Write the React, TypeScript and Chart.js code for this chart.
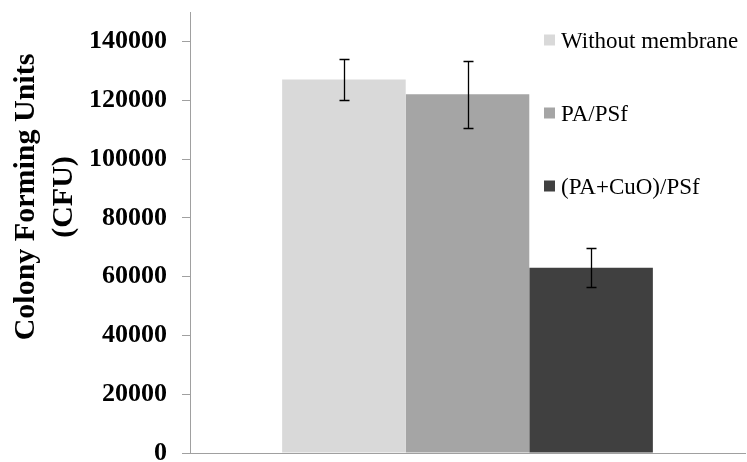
import React, { useEffect, useRef } from "react";
import { Chart, registerables } from "chart.js";

Chart.register(...registerables);

const categories = [""];
const seriesLabels = ["Without membrane", "PA/PSf", "(PA+CuO)/PSf"];
const seriesValues = [127000, 122000, 63000];
const seriesErrors = [7100, 11400, 6600];
const seriesColors = ["#d9d9d9", "#a5a5a5", "#404040"];
const yTickValues = [0, 20000, 40000, 60000, 80000, 100000, 120000, 140000];
const yTitle = ["Colony Forming Units", "(CFU)"];

const FONT = "'Liberation Serif', 'Times New Roman', serif";
const AXIS_GREY = "#a0a0a0";

const errorBarPlugin = {
  id: "errorBars",
  afterDatasetsDraw(chart: any) {
    const ctx = chart.ctx;
    const y = chart.scales.y;
    ctx.save();
    ctx.strokeStyle = "#000";
    ctx.lineWidth = 1.3;
    chart.data.datasets.forEach((ds: any, i: number) => {
      const meta = chart.getDatasetMeta(i);
      meta.data.forEach((bar: any, j: number) => {
        const v = ds.data[j];
        const e = seriesErrors[i];
        const yt = Math.round(y.getPixelForValue(v + e)) + 0.5;
        const yb = Math.round(y.getPixelForValue(v - e)) + 0.5;
        const x = Math.round(bar.x) + 0.5;
        ctx.beginPath();
        ctx.moveTo(x, yt);
        ctx.lineTo(x, yb);
        ctx.moveTo(x - 5, yt);
        ctx.lineTo(x + 5, yt);
        ctx.moveTo(x - 5, yb);
        ctx.lineTo(x + 5, yb);
        ctx.stroke();
      });
    });
    ctx.restore();
  },
};

const sideLegendPlugin = {
  id: "sideLegend",
  afterDraw(chart: any) {
    const ctx = chart.ctx;
    ctx.save();
    ctx.font = `23px ${FONT}`;
    ctx.textBaseline = "alphabetic";
    ctx.textAlign = "left";
    chart.data.datasets.forEach((ds: any, i: number) => {
      const cy = 40 + i * 73;
      ctx.fillStyle = ds.backgroundColor;
      ctx.fillRect(544, cy - 5.5, 11, 11);
      ctx.fillStyle = "#000";
      ctx.fillText(ds.label, 561, cy + 7.5);
    });
    ctx.restore();
  },
};

const yTitlePlugin = {
  id: "yTitle",
  afterDraw(chart: any) {
    const ctx = chart.ctx;
    ctx.save();
    ctx.font = `bold 30px ${FONT}`;
    ctx.fillStyle = "#000";
    ctx.textAlign = "center";
    ctx.textBaseline = "alphabetic";
    const baselines = [34, 72];
    yTitle.forEach((line, i) => {
      ctx.save();
      ctx.translate(baselines[i], 197);
      ctx.rotate(-Math.PI / 2);
      ctx.fillText(line, 0, 0);
      ctx.restore();
    });
    ctx.restore();
  },
};

export default function App() {
  const canvasRef = useRef<HTMLCanvasElement | null>(null);

  useEffect(() => {
    if (!canvasRef.current) return;
    const chart = new Chart(canvasRef.current, {
      type: "bar",
      data: {
        labels: categories,
        datasets: seriesLabels.map((label, i) => ({
          label,
          data: [seriesValues[i]],
          backgroundColor: seriesColors[i],
          borderWidth: 0,
          categoryPercentage: 0.668,
          barPercentage: 1,
        })),
      },
      options: {
        responsive: false,
        animation: false,
        events: [],
        layout: { padding: { left: 74, right: 2, top: 12, bottom: 9 } },
        plugins: {
          legend: { display: false },
          tooltip: { enabled: false },
        },
        scales: {
          x: {
            grid: { display: false, drawTicks: false },
            ticks: { display: false },
            border: { color: AXIS_GREY, width: 1 },
          },
          y: {
            min: 0,
            max: 150000,
            bounds: "data",
            afterBuildTicks: (scale: any) => {
              scale.ticks = yTickValues.map((v) => ({ value: v }));
            },
            afterFit: (scale: any) => {
              scale.paddingTop = 0;
              scale.paddingBottom = 0;
            },
            ticks: {
              font: { family: FONT, size: 26, weight: "bold" },
              color: "#000",
              padding: 15,
              callback: (v: any) => String(v),
            },
            grid: {
              drawOnChartArea: false,
              drawTicks: true,
              tickLength: 8,
              color: AXIS_GREY,
            },
            border: { color: AXIS_GREY, width: 1 },
            title: { display: false },
          },
        },
      },
      plugins: [errorBarPlugin, sideLegendPlugin, yTitlePlugin],
    } as any);
    return () => chart.destroy();
  }, []);

  return (
    <div
      style={{
        position: "fixed",
        left: 0,
        top: 0,
        width: 747,
        height: 462,
        background: "#fff",
      }}
    >
      <canvas ref={canvasRef} width={747} height={462} style={{ display: "block" }} />
    </div>
  );
}
